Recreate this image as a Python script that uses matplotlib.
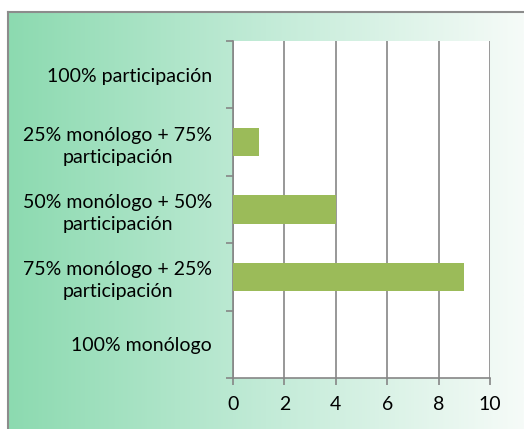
import matplotlib.pyplot as plt
import numpy as np
from matplotlib.colors import LinearSegmentedColormap

categories = ['100% monólogo',
              '75% monólogo + 25%\nparticipación',
              '50% monólogo + 50%\nparticipación',
              '25% monólogo + 75%\nparticipación',
              '100% participación']
values = [0, 9, 4, 1, 0]
x_ticks = [0, 2, 4, 6, 8, 10]

plt.rcParams['font.family'] = ['Lato', 'DejaVu Sans']

W, H = 524, 429
fig = plt.figure(figsize=(W / 100, H / 100), dpi=100)
fig.patch.set_facecolor('white')

# fondo degradado
bg = fig.add_axes([8 / W, 0, 1 - 8 / W, 1 - 12 / H])
cmap = LinearSegmentedColormap.from_list('bg', ['#8cdab0', '#c2ebd7', '#f6fbf8'])
bg.imshow(np.linspace(0, 1, 256).reshape(1, -1), aspect='auto', cmap=cmap,
          extent=[0, 1, 0, 1])
bg.set_xlim(0, 1)
bg.set_ylim(0, 1)
for s in ['right', 'bottom']:
    bg.spines[s].set_visible(False)
for s in ['left', 'top']:
    bg.spines[s].set_color('#8c8c8c')
    bg.spines[s].set_linewidth(1.5)
bg.set_xticks([])
bg.set_yticks([])

# área del gráfico
ax = fig.add_axes([233 / W, 1 - 378 / H, (490 - 233) / W, (378 - 41) / H])
ax.set_facecolor('white')
y = np.arange(len(categories))
ax.barh(y, values, height=0.42, color='#9bbb59', zorder=3)

ax.set_xlim(0, 10)
ax.set_ylim(-0.5, len(categories) - 0.5)
ax.set_xticks(x_ticks)
ax.set_yticks(y)
ax.set_yticklabels(categories, ha='right', multialignment='center',
                   fontsize=14, linespacing=1.35)
ax.set_yticks(np.arange(-0.5, len(categories), 1), minor=True)
ax.tick_params(axis='y', which='major', length=0, pad=15)
ax.tick_params(axis='y', which='minor', length=5, color='#868686', width=1.2)
ax.tick_params(axis='x', length=5, color='#868686', width=1.2, labelsize=14, pad=8)
ax.grid(axis='x', color='#868686', linewidth=1.2, zorder=1)

for s in ['top', 'right']:
    ax.spines[s].set_visible(False)
for s in ['left', 'bottom']:
    ax.spines[s].set_color('#868686')
    ax.spines[s].set_linewidth(1.2)

plt.savefig('out.png', dpi=100)
